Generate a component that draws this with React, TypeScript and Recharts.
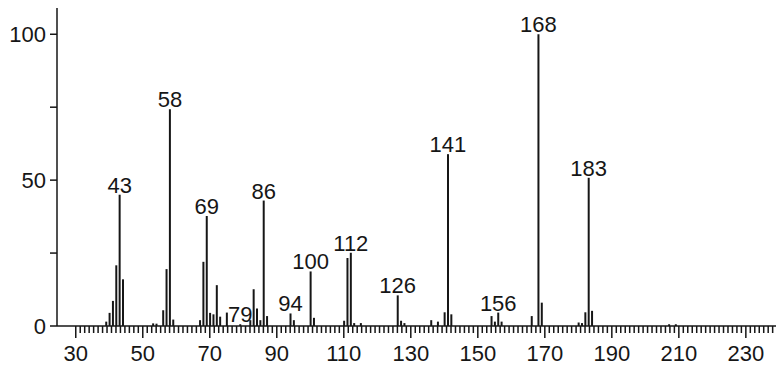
import React from 'react'
import { BarChart, Bar, XAxis, YAxis, LabelList } from 'recharts'

// m/z values and relative intensities
const mz = [
  39, 40, 41, 42, 43, 44,
  53, 54, 56, 57, 58, 59,
  67, 68, 69, 70, 71, 72, 73, 75, 79,
  82, 83, 84, 85, 86, 87,
  94, 95, 100, 101,
  110, 111, 112, 113, 115,
  126, 127, 128,
  136, 138, 140, 141, 142,
  154, 155, 156, 157,
  166, 168, 169,
  180, 181, 182, 183, 184,
  207, 209,
]
const intensity = [
  1.5, 4.5, 8.6, 20.8, 45, 16,
  0.9, 0.8, 5.4, 19.5, 74.3, 2.2,
  2, 22, 37.7, 4.5, 4, 14, 3.2, 4.6, 0.6,
  2, 12.6, 6, 2, 43, 3.4,
  4.3, 2, 18.7, 2.8,
  1.8, 23.3, 25.1, 1, 1,
  10.5, 1.8, 1,
  2, 1.5, 4.7, 58.9, 4,
  3.4, 1.5, 4.6, 1.5,
  3.4, 100, 8,
  1.2, 1, 4.7, 50.8, 5.2,
  0.6, 0.6,
]
const labeledPeaks = [43, 58, 69, 79, 86, 94, 100, 112, 126, 141, 156, 168, 183]

const xTickLabels = [30, 50, 70, 90, 110, 130, 150, 170, 190, 210, 230]
const yTicks = [0, 25, 50, 75, 100]
const yTickLabels = [0, 50, 100]

const data = mz.map((m, i) => ({
  mz: m,
  value: intensity[i],
  label: labeledPeaks.includes(m) ? String(m) : undefined,
}))

// small ticks: 15 per 20 units, starting at 30
const minorTicks = Array.from({ length: 157 }, (_, i) => 30 + (i * 4) / 3).filter((v) => v <= 239)

const FONT = '"Liberation Sans", Arial, sans-serif'
const INK = '#161616'

function XTick(props: any) {
  const { x, y, payload } = props
  const v = payload.value
  const major = xTickLabels.some((t) => Math.abs(t - v) < 0.01)
  return (
    <g>
      <line x1={x} x2={x} y1={y} y2={y + (major ? 12 : 7)} stroke={INK} strokeWidth={1.5} />
      {major && (
        <text x={x} y={y + 35} textAnchor="middle" fontSize={22} fontFamily={FONT} fill={INK}>
          {Math.round(v)}
        </text>
      )}
    </g>
  )
}

function PeakLabel(props: any) {
  const { x, y, width, value } = props
  if (!value) return null
  return (
    <text x={x + width / 2} y={y - 2} textAnchor="middle" fontSize={22} fontFamily={FONT} fill={INK}>
      {value}
    </text>
  )
}

export default function App() {
  return (
    <div style={{ position: 'absolute', left: 0, top: 0, background: '#fff' }}>
      <BarChart
        width={776}
        height={367}
        data={data}
        margin={{ top: 8, right: 0, left: 0, bottom: 0 }}
        barCategoryGap={0}
      >
        <XAxis
          dataKey="mz"
          type="number"
          domain={[24.4, 239]}
          ticks={minorTicks}
          interval={0}
          height={41}
          tickSize={0}
          tickMargin={0}
          tickLine={false}
          tick={<XTick />}
          axisLine={{ stroke: INK, strokeWidth: 1.5 }}
          allowDataOverflow
        />
        <YAxis
          width={57}
          domain={[0, 109]}
          ticks={yTicks}
          interval={0}
          tickSize={7}
          tickMargin={4}
          tickFormatter={(v: number) => (yTickLabels.includes(v) ? String(v) : '')}
          tick={{ fontSize: 22, fontFamily: FONT, fill: INK }}
          tickLine={{ stroke: INK, strokeWidth: 1.5 }}
          axisLine={{ stroke: INK, strokeWidth: 1.5 }}
          allowDataOverflow
        />
        <Bar dataKey="value" fill={INK} barSize={2} isAnimationActive={false}>
          <LabelList dataKey="label" content={<PeakLabel />} />
        </Bar>
      </BarChart>
    </div>
  )
}
